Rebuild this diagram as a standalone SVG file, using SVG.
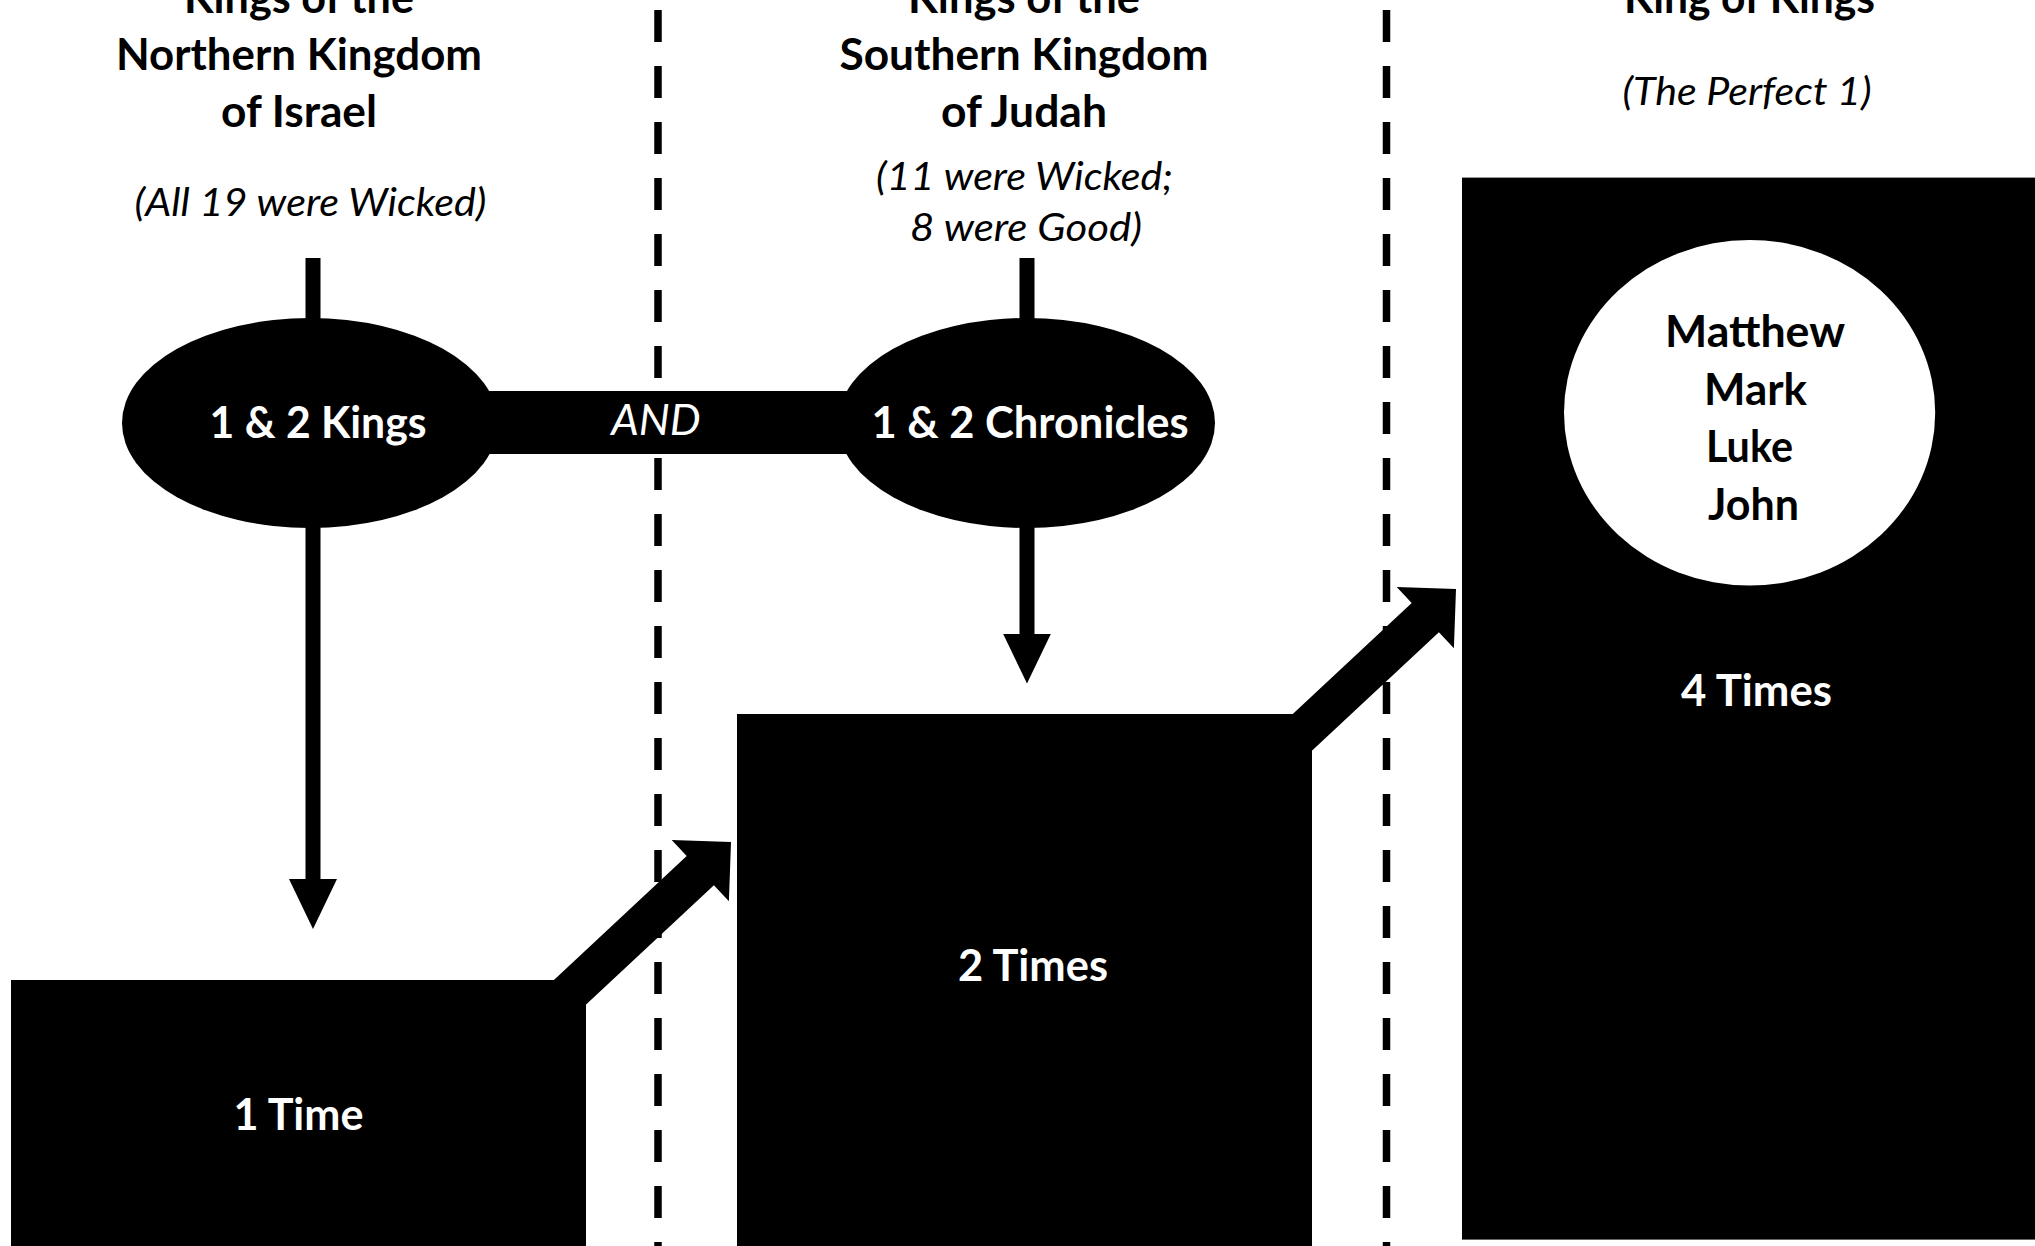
<svg xmlns="http://www.w3.org/2000/svg" width="2035" height="1246" viewBox="0 0 2035 1246">
  <style>
    .bg { fill: #ffffff; }
    .blk { fill: #000000; }
    .wht { fill: #ffffff; }
    .sep { stroke: #000000; stroke-width: 7.5; stroke-dasharray: 32 24; fill: none; }
    .shaft { stroke: #000000; stroke-width: 15; fill: none; }
    .tb { font-family: Lato, 'Liberation Sans', sans-serif; font-weight: 700; font-size: 43px; text-anchor: middle; }
    .ti { font-family: Lato, 'Liberation Sans', sans-serif; font-style: italic; font-weight: 400; font-size: 38px; text-anchor: middle; }
    .tand { font-family: Lato, 'Liberation Sans', sans-serif; font-style: italic; font-weight: 400; font-size: 43px; text-anchor: middle; }
    .ink { fill: #000000; }
    .inv { fill: #ffffff; }
  </style>
  <defs>
    <marker id="head" markerUnits="userSpaceOnUse" markerWidth="50" markerHeight="48" refX="2" refY="24" orient="auto" viewBox="0 0 50 48">
      <path d="M0,0 L50,24 L0,48 Z" fill="#000000"/>
    </marker>
    <path id="diag-arrow" d="M0,0 L-59.3,-2.1 L-44.3,14 L-212.4,170.9 L-185.2,200.1 L-17.1,43.2 L-2.1,59.3 Z" fill="#000000"/>
  </defs>

  <rect class="bg" x="0" y="0" width="2035" height="1246"/>

  <g id="separators">
    <line class="sep" x1="658" y1="10" x2="658" y2="1250"/>
    <line class="sep" x1="1386.5" y1="10" x2="1386.5" y2="1250"/>
  </g>

  <g id="header-israel">
    <text class="tb ink" x="299" y="12.5" textLength="230" lengthAdjust="spacingAndGlyphs">Kings of the</text>
    <text class="tb ink" x="299" y="69.5" textLength="366" lengthAdjust="spacingAndGlyphs">Northern Kingdom</text>
    <text class="tb ink" x="299" y="126.5" textLength="156" lengthAdjust="spacingAndGlyphs">of Israel</text>
    <text class="ti ink" x="310.5" y="215.5" textLength="352" lengthAdjust="spacingAndGlyphs">(All 19 were Wicked)</text>
  </g>

  <g id="header-judah">
    <text class="tb ink" x="1024" y="12.5" textLength="232" lengthAdjust="spacingAndGlyphs">Kings of the</text>
    <text class="tb ink" x="1024" y="69.5" textLength="369" lengthAdjust="spacingAndGlyphs">Southern Kingdom</text>
    <text class="tb ink" x="1024" y="126.5" textLength="166" lengthAdjust="spacingAndGlyphs">of Judah</text>
    <text class="ti ink" x="1024.5" y="190" textLength="297" lengthAdjust="spacingAndGlyphs">(11 were Wicked;</text>
    <text class="ti ink" x="1026" y="240.5" textLength="232" lengthAdjust="spacingAndGlyphs">8 were Good)</text>
  </g>

  <g id="header-king">
    <text class="tb ink" x="1749.5" y="13" textLength="251" lengthAdjust="spacingAndGlyphs">King of Kings</text>
    <text class="ti ink" x="1747" y="105" textLength="249" lengthAdjust="spacingAndGlyphs">(The Perfect 1)</text>
  </g>

  <g id="connectors">
    <line class="shaft" x1="313" y1="258" x2="313" y2="881" marker-end="url(#head)"/>
    <line class="shaft" x1="1027" y1="258" x2="1027" y2="635.6" marker-end="url(#head)"/>
    <use href="#diag-arrow" transform="translate(731,842)"/>
    <use href="#diag-arrow" transform="translate(1456,589)"/>
    <g id="and-link">
      <rect class="blk" x="470" y="391" width="390" height="63"/>
    </g>
  </g>

  <g id="node-kings">
    <ellipse class="blk" cx="310" cy="423" rx="188" ry="105"/>
    <text class="tb inv" x="318" y="438.3" textLength="217" lengthAdjust="spacingAndGlyphs">1 &amp; 2 Kings</text>
  </g>

  <g id="node-chronicles">
    <ellipse class="blk" cx="1026.5" cy="423" rx="188.5" ry="105"/>
    <text class="tb inv" x="1030" y="437.5" textLength="317" lengthAdjust="spacingAndGlyphs">1 &amp; 2 Chronicles</text>
  </g>

  <g id="label-and">
    <text class="tand inv" x="656" y="435" textLength="89.5" lengthAdjust="spacingAndGlyphs">AND</text>
  </g>

  <g id="node-one-time">
    <rect class="blk" x="11" y="980" width="575" height="270"/>
    <text class="tb inv" x="298.5" y="1130" textLength="130" lengthAdjust="spacingAndGlyphs">1 Time</text>
  </g>

  <g id="node-two-times">
    <rect class="blk" x="737" y="714" width="575" height="536"/>
    <text class="tb inv" x="1033" y="981" textLength="150" lengthAdjust="spacingAndGlyphs">2 Times</text>
  </g>

  <g id="node-four-times">
    <rect class="blk" x="1462" y="177.6" width="580" height="1062"/>
    <text class="tb inv" x="1756.5" y="706" textLength="151" lengthAdjust="spacingAndGlyphs">4 Times</text>
  </g>

  <g id="node-gospels">
    <ellipse class="wht" cx="1749.6" cy="412.8" rx="185.6" ry="172.8"/>
    <text class="tb ink" x="1755" y="347" textLength="180" lengthAdjust="spacingAndGlyphs">Matthew</text>
    <text class="tb ink" x="1755.5" y="404.5" textLength="103" lengthAdjust="spacingAndGlyphs">Mark</text>
    <text class="tb ink" x="1749.5" y="462" textLength="87" lengthAdjust="spacingAndGlyphs">Luke</text>
    <text class="tb ink" x="1753.5" y="519.5" textLength="91" lengthAdjust="spacingAndGlyphs">John</text>
  </g>
</svg>
